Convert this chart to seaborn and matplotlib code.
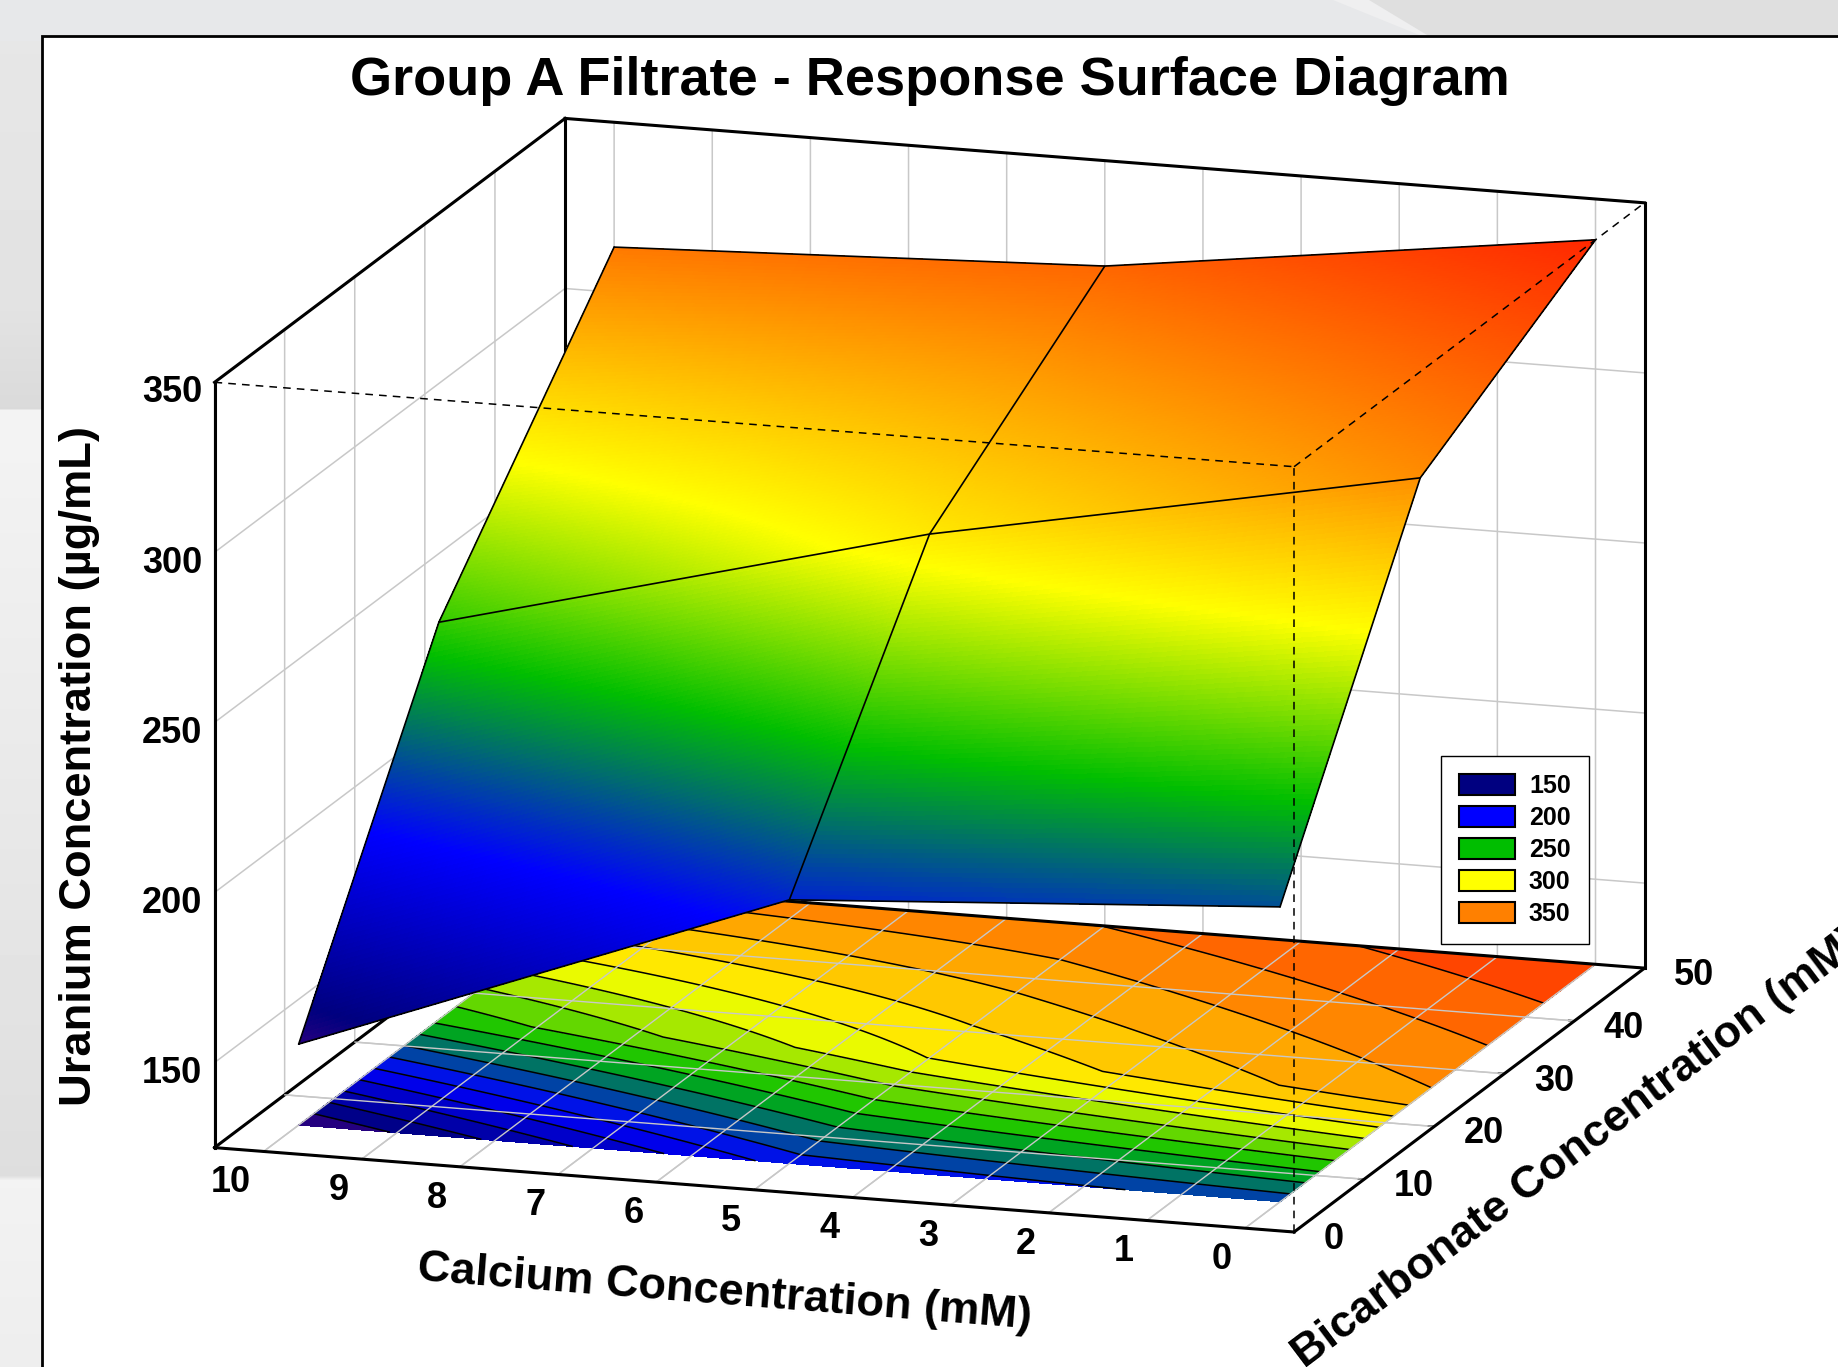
import matplotlib
matplotlib.use("Agg")
import matplotlib.pyplot as plt
import seaborn as sns
import numpy as np
from matplotlib.colors import LinearSegmentedColormap, Normalize
from matplotlib.patches import Patch, Polygon, Rectangle
from mpl_toolkits.mplot3d import proj3d

# Values
calcium = [0, 5, 10]
bicarbonate = [5, 25, 50]
uranium_ca0 = [211.7, 306.8, 338.0]
uranium_ca5 = [202.5, 279.0, 319.0]
uranium_ca10 = [148.8, 241.8, 313.3]

calcium_ticks = list(range(0, 11))
bicarbonate_ticks = [0, 10, 20, 30, 40, 50]
uranium_ticks = [150, 200, 250, 300, 350]
legend_values = ["150", "200", "250", "300", "350"]
legend_colors = ["#000080", "#0000ff", "#00be00", "#ffff00", "#ff8000"]

# colour stops along the z scale
stop_values = [148, 156, 195, 234, 272, 350]
stop_colors = ["#28007f", "#00007f", "#0000ff", "#00be00", "#ffff00", "#ff0000"]
floor_levels = [138.8, 148.8, 158.8, 168.8, 178.8, 188.8, 198.8, 208.8, 218.8, 228.8,
                238.8, 248.8, 258.8, 268.8, 278.8, 288.8, 298.8, 308.8, 318.8, 328.8, 348.8]

xlim = (10.5, -0.5)
ylim = (0, 50)
zlim = (125, 350)

sns.set_theme(style="white")
plt.rcParams["font.family"] = ["Liberation Sans", "DejaVu Sans"]
plt.rcParams["font.weight"] = "bold"
plt.rcParams["axes.labelweight"] = "bold"
plt.rcParams["grid.color"] = "#c8c8c8"
plt.rcParams["grid.linewidth"] = 1.1

norm = Normalize(min(stop_values), max(stop_values))
cmap = LinearSegmentedColormap.from_list(
    "response", [(norm(v), c) for v, c in zip(stop_values, stop_colors)], N=1024
)

Z = np.array([uranium_ca0, uranium_ca5, uranium_ca10]).T

# finer mesh so the colour can run smoothly across each panel
ca_fine = np.linspace(min(calcium), max(calcium), 241)
hco3_fine = np.linspace(min(bicarbonate), max(bicarbonate), 181)
rows = np.array([np.interp(ca_fine, calcium, r) for r in Z])
Z_fine = np.array([np.interp(hco3_fine, bicarbonate, c) for c in rows.T]).T
X_fine, Y_fine = np.meshgrid(ca_fine, hco3_fine)

fig = plt.figure(figsize=(18.38, 13.67), dpi=100, facecolor="#e7e8ea")

# slide background behind the chart card, in figure fractions
bg = fig.add_axes([0, 0, 1, 1], zorder=-5)
bg.set_axis_off()
strip_y = [0, 300, 408, 410, 1175, 1180, 1367]
strip_grey = [0.905, 0.89, 0.855, 0.955, 0.87, 0.95, 0.93]
strip = np.interp(np.arange(1367), strip_y, strip_grey)[:, None]
bg.imshow(strip, extent=(0, 0.024, 1, 0), aspect="auto", cmap="gray", vmin=0, vmax=1)
bg.add_patch(Rectangle((0, 0), 0.74, 0.03, facecolor="#e7e8ea", edgecolor="none"))
bg.add_patch(Polygon([(0.725, 0), (1, 0), (1, 0.03), (0.78, 0.03)],
                     facecolor="#efeff0", edgecolor="none"))
bg.add_patch(Polygon([(0.745, 0), (1, 0), (1, 0.03), (0.782, 0.03)],
                     facecolor="#dfdfdf", edgecolor="none"))
bg.set_xlim(0, 1)
bg.set_ylim(1, 0)
bg.add_patch(Rectangle((0.023, 0.0262), 1.1, 1.1, facecolor="white", edgecolor="black",
                       linewidth=2))

ax = fig.add_axes([0.01945, -0.1479, 0.947, 1.2735], projection="3d",
                  proj_type="ortho", computed_zorder=False)
ax.patch.set_alpha(0)
ax.set_box_aspect((967.6, 975, 673), zoom=1)
ax.view_init(elev=14.04, azim=-72.14)
ax.set_xlim(*xlim, view_margin=0)
ax.set_ylim(*ylim, view_margin=0)
ax.set_zlim(*zlim, view_margin=0)

for axis in (ax.xaxis, ax.yaxis, ax.zaxis):
    axis.set_pane_color((1, 1, 1, 1))
    axis.pane.set_edgecolor("black")
    axis.pane.set_linewidth(1)
    axis.line.set_color("black")
    axis.line.set_linewidth(1)
ax.zaxis.set_ticks_position("lower")
ax.grid(True)

ax.set_xticks(calcium_ticks)
ax.set_yticks(bicarbonate_ticks)
ax.set_zticks(uranium_ticks)
ax.set_xticklabels([])
ax.set_yticklabels([])
ax.set_zticklabels([])
ax.tick_params(axis="both", colors="black")
ax.xaxis._axinfo["tick"].update(inward_factor=0.0, outward_factor=0.02)
ax.yaxis._axinfo["tick"].update(inward_factor=0.0, outward_factor=0.07)
ax.zaxis._axinfo["tick"].update(inward_factor=0.0, outward_factor=0.0)


def tick_text(x, y, z, s, ha):
    # tick labels sit straight beside the box edges
    px, py, _ = proj3d.proj_transform(x, y, z, ax.get_proj())
    ax.text2D(px, py, s, transform=ax.transData, fontsize=26, fontweight="bold",
              color="black", ha=ha, va="center")


for t in calcium_ticks:
    tick_text(t - 0.155, ylim[0] - 4, zlim[0] - 2.7, str(t), "right")
for t in bicarbonate_ticks:
    tick_text(xlim[1] - 0.3, t, zlim[0] - 1.5, str(t), "left")
for t in uranium_ticks:
    tick_text(xlim[0] + 0.43, ylim[0], t - 4.1, str(t), "center")

# box edges go over the native grid
edge = dict(color="black", lw=2.2, solid_capstyle="projecting", zorder=1)
ax.plot(xlim, [ylim[1]] * 2, [zlim[1]] * 2, **edge)
ax.plot([xlim[0]] * 2, ylim, [zlim[1]] * 2, **edge)
ax.plot([xlim[0]] * 2, [ylim[1]] * 2, zlim, **edge)
ax.plot([xlim[0]] * 2, [ylim[0]] * 2, zlim, **edge)
ax.plot([xlim[1]] * 2, [ylim[1]] * 2, zlim, **edge)
ax.plot([xlim[0]] * 2, ylim, [zlim[0]] * 2, **edge)

# floor map
band_colors = [cmap(norm(v)) for v in floor_levels[:-1]]
ax.contourf(X_fine, Y_fine, Z_fine, levels=floor_levels, colors=band_colors,
            zdir="z", offset=zlim[0], zorder=2)
ax.contour(X_fine, Y_fine, Z_fine, levels=floor_levels, colors="black",
           linewidths=1.1, linestyles="solid", zdir="z", offset=zlim[0], zorder=3)

# grid shows through the floor map
for t in calcium_ticks:
    ax.plot([t, t], ylim, [zlim[0], zlim[0]], color="#c8c8c8", lw=1, zorder=4)
for t in bicarbonate_ticks:
    ax.plot(xlim, [t, t], [zlim[0], zlim[0]], color="#c8c8c8", lw=1, zorder=4)

front = dict(edge, zorder=4.5)
ax.plot(xlim, [ylim[0]] * 2, [zlim[0]] * 2, **front)
ax.plot(xlim, [ylim[1]] * 2, [zlim[0]] * 2, **front)
ax.plot([xlim[1]] * 2, ylim, [zlim[0]] * 2, **front)

# response surface
ax.plot_surface(X_fine, Y_fine, Z_fine, rstride=1, cstride=1,
                facecolors=cmap(norm(Z_fine)), shade=False, linewidth=0,
                antialiased=False, zorder=5)
for i, b in enumerate(bicarbonate):
    ax.plot(calcium, [b] * 3, Z[i], color="black", lw=1.2, zorder=6)
for j, c in enumerate(calcium):
    ax.plot([c] * 3, bicarbonate, Z[:, j], color="black", lw=1.2, zorder=6)

# dashed front of the box
dash = dict(color="black", lw=1.1, ls=(0, (5, 4)), zorder=7)
ax.plot(xlim, [ylim[0]] * 2, [zlim[1]] * 2, **dash)
ax.plot([xlim[1]] * 2, ylim, [zlim[1]] * 2, **dash)
ax.plot([xlim[1]] * 2, [ylim[0]] * 2, zlim, **dash)

label_font = dict(fontsize=32.6, fontweight="bold", color="black", ha="center",
                  va="center", rotation_mode="anchor")
fig.text(618 / 1568, 1 - 1103 / 1166, "Calcium Concentration (mM)", rotation=-4.5, **label_font)
fig.text(1346 / 1568, 1 - 980 / 1166, "Bicarbonate Concentration (mM)", rotation=37, **label_font)
fig.text(68 / 1568, 1 - 653 / 1166, "Uranium Concentration (µg/mL)", rotation=90, **label_font)

fig.suptitle("Group A Filtrate - Response Surface Diagram", x=0.5057, y=1 - 69 / 1166,
             va="center", fontsize=39, fontweight="bold", color="black")

handles = [Patch(facecolor=c, edgecolor="black", linewidth=1.5, label=v)
           for v, c in zip(legend_values, legend_colors)]
fig.legend(handles=handles, loc="lower left", borderaxespad=0,
           bbox_to_anchor=(1229 / 1568, 1 - 805 / 1166), bbox_transform=fig.transFigure,
           frameon=True, fancybox=False, framealpha=1, edgecolor="black",
           fontsize=18, handlelength=2.25, handleheight=0.9, handletextpad=0.56,
           labelspacing=0.32, borderpad=0.72, labelcolor="black")

fig.savefig("out.png", dpi=100)
